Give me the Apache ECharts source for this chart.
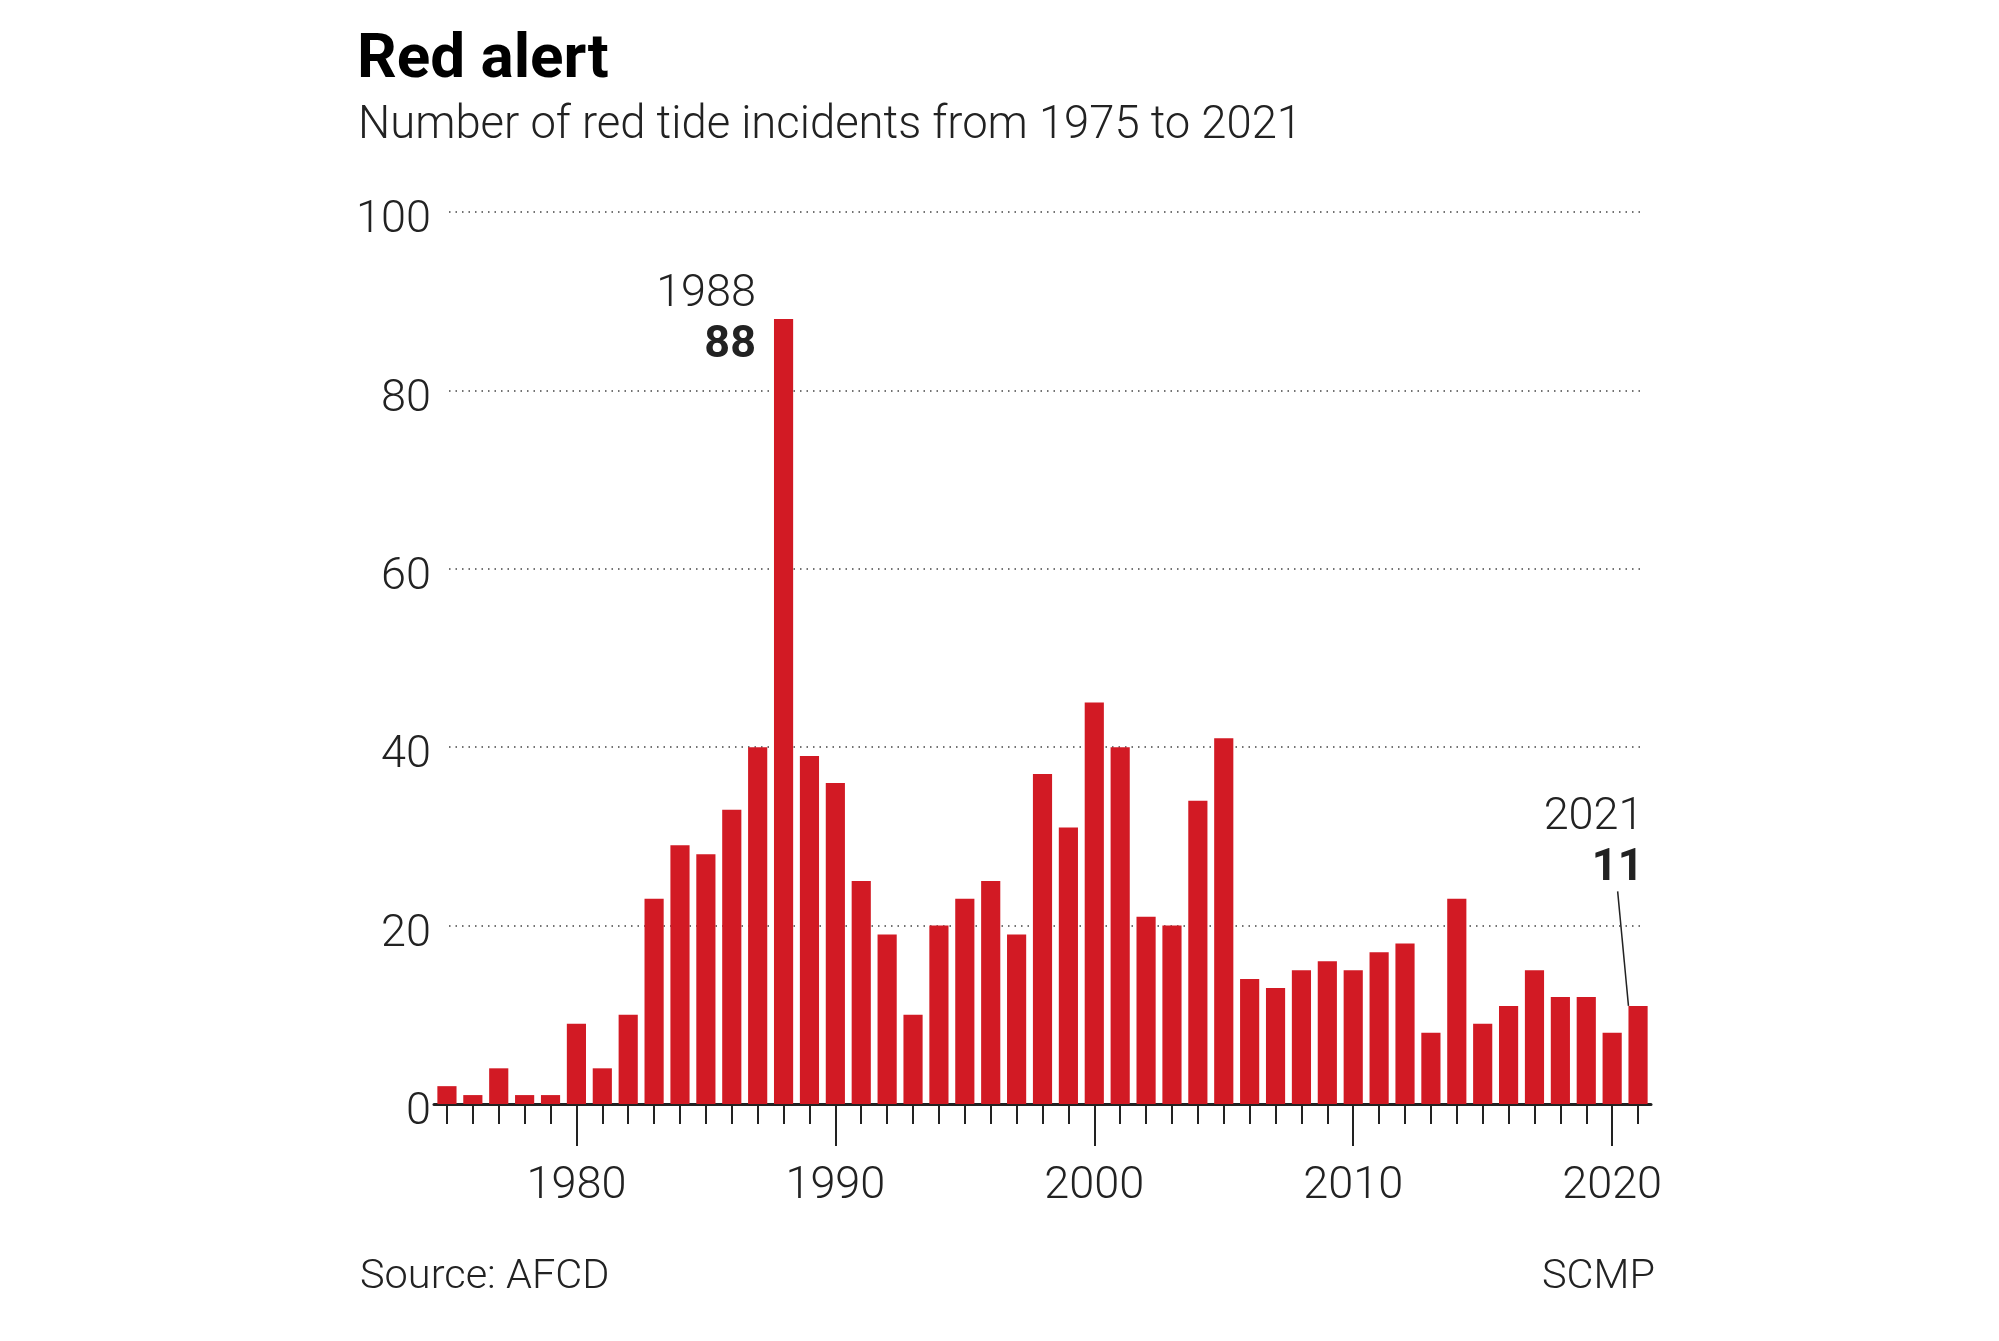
<!DOCTYPE html>
<html>
<head>
<meta charset="utf-8">
<script src="https://cdn.jsdelivr.net/npm/echarts@6/dist/echarts.min.js"></script>
<style>
html,body{margin:0;padding:0;background:#fff;}
#chart{width:1999px;height:1341px;}
</style>
</head>
<body>
<div id="chart"></div>
<script>
const years = ['1975','1976','1977','1978','1979','1980','1981','1982','1983','1984','1985','1986','1987','1988','1989','1990','1991','1992','1993','1994','1995','1996','1997','1998','1999','2000','2001','2002','2003','2004','2005','2006','2007','2008','2009','2010','2011','2012','2013','2014','2015','2016','2017','2018','2019','2020','2021'];
const incidents = [2,1,4,1,1,9,4,10,23,29,28,33,40,88,39,36,25,19,10,20,23,25,19,37,31,45,40,21,20,34,41,14,13,15,16,15,17,18,8,23,9,11,15,12,12,8,11];
const yTicks = [0,20,40,60,80,100];
const titleText = 'Red alert';
const subtitleText = 'Number of red tide incidents from 1975 to 2021';
const sourceText = 'Source: AFCD';
const creditText = 'SCMP';
const peakYear = '1988';
const latestYear = '2021';

const FONT = 'Roboto';
const BAR = '#d21a24';
const INK = '#222';
const light = { fontFamily: FONT, fontWeight: 300, fontSize: 45, color: INK, lineHeight: 51, align: 'right' };
const bold = { fontFamily: FONT, fontWeight: 700, fontSize: 45, color: INK, lineHeight: 51, align: 'right' };

const seriesData = incidents.map((v, i) => {
  const y = years[i];
  const item = { value: v };
  if (y === peakYear) {
    item.label = {
      show: true, position: [-18, 1], align: 'right', verticalAlign: 'middle',
      formatter: '{a|' + y + '}\n{b|' + v + '}', rich: { a: light, b: bold }
    };
  } else if (y === latestYear) {
    item.label = {
      show: true, position: [15, -137], align: 'right', verticalAlign: 'middle',
      formatter: '{b|' + v + '}', rich: { b: bold }
    };
    item.labelLine = { show: true, lineStyle: { color: INK, width: 1.5 } };
  }
  return item;
});

// invisible overlay carrying the year text of the latest annotation
const yearOverlay = incidents.map((v, i) => years[i] === latestYear ? {
  value: v,
  label: {
    show: true, position: [15, -188], align: 'right', verticalAlign: 'middle',
    formatter: '{a|' + years[i] + '}', rich: { a: light }
  }
} : '-');

const chart = echarts.init(document.getElementById('chart'), null, { renderer: 'canvas' });
chart.setOption({
  backgroundColor: '#fff',
  animation: false,
  title: [
    { text: titleText, left: 352, top: 25, textStyle: { fontFamily: FONT, fontWeight: 700, fontSize: 62, color: '#000' } },
    { text: subtitleText, left: 353, top: 99, textStyle: { fontFamily: FONT, fontWeight: 300, fontSize: 45.4, color: INK } },
    { text: sourceText, left: 355, top: 1252, textStyle: { fontFamily: FONT, fontWeight: 300, fontSize: 41.5, color: INK } },
    { text: creditText, right: 339, top: 1252, textStyle: { fontFamily: FONT, fontWeight: 300, fontSize: 41.5, color: INK } }
  ],
  grid: [
    { left: 434, right: 348, top: 212, bottom: 237 },
    { left: 449, right: 358, top: 212, bottom: 237 }
  ],
  xAxis: [
    {
      type: 'category', gridIndex: 0, position: 'bottom', data: years, boundaryGap: true,
      axisLine: { show: true, lineStyle: { color: INK, width: 3 } },
      axisTick: { show: true, interval: 0, alignWithLabel: true, length: 20, lineStyle: { color: INK, width: 2 } },
      axisLabel: { show: false, interval: 0 },
      splitLine: { show: false }
    },
    {
      type: 'category', gridIndex: 0, position: 'bottom', offset: 0, data: years, boundaryGap: true,
      axisLine: { show: false },
      axisTick: { show: true, alignWithLabel: true, length: 42, interval: (i, v) => Number(v) % 10 === 0, lineStyle: { color: INK, width: 2 } },
      axisLabel: { show: true, interval: (i, v) => Number(v) % 10 === 0, margin: 60, fontFamily: FONT, fontWeight: 300, fontSize: 45, color: INK },
      splitLine: { show: false }
    },
    { type: 'value', gridIndex: 1, min: 0, max: 1, show: false }
  ],
  yAxis: [
    { type: 'value', gridIndex: 0, min: yTicks[0], max: yTicks[yTicks.length - 1], interval: 20, show: false },
    {
      type: 'value', gridIndex: 1, min: yTicks[0], max: yTicks[yTicks.length - 1], interval: 20,
      axisLine: { show: false }, axisTick: { show: false },
      axisLabel: {
        show: true, margin: 18, formatter: '{v|{value}}',
        rich: { v: { fontFamily: FONT, fontWeight: 300, fontSize: 45, color: INK, padding: [18, 0, 0, 0] } }
      },
      splitLine: { show: true, lineStyle: { color: '#444', width: 1.5, type: [1.5, 5] } }
    }
  ],
  series: [
    {
      type: 'bar', xAxisIndex: 0, yAxisIndex: 0, data: seriesData,
      barCategoryGap: '26%', barGap: '-100%',
      itemStyle: { color: BAR },
      z: 3
    },
    {
      type: 'bar', xAxisIndex: 0, yAxisIndex: 0, data: yearOverlay,
      barCategoryGap: '26%', barGap: '-100%',
      itemStyle: { color: 'rgba(0,0,0,0)' },
      silent: true,
      z: 2
    }
  ]
});
</script>
</body>
</html>
